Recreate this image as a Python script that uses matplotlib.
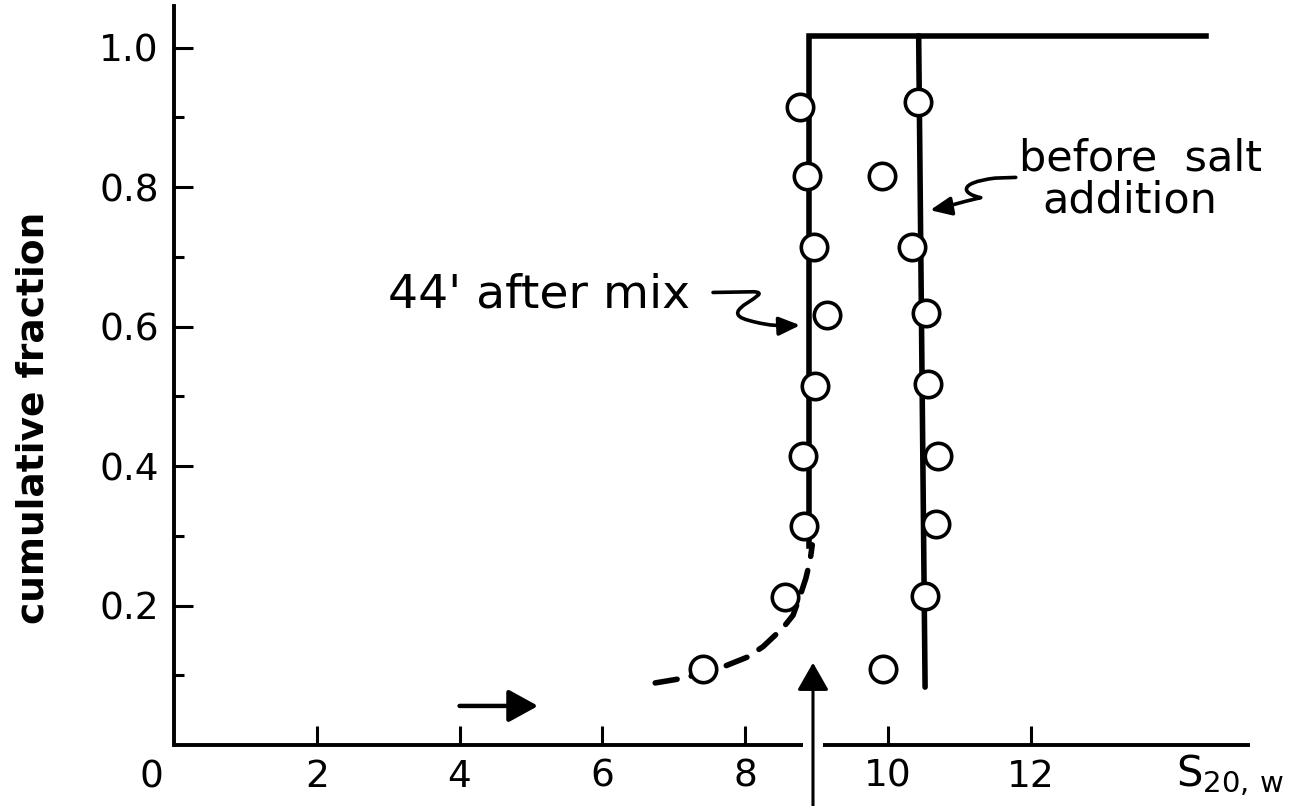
import numpy as np
import matplotlib
matplotlib.use("Agg")
import matplotlib.pyplot as plt
from matplotlib.path import Path
from matplotlib.patches import FancyArrowPatch

plt.rcParams['font.family'] = ['DejaVu Sans']

# sedimentation coefficient (S20,w) vs cumulative fraction, read per boundary level
after_x = [8.77, 8.87, 8.96, 9.14, 8.98, 8.81, 8.82, 8.56, 7.41]
after_y = [0.915, 0.816, 0.714, 0.616, 0.515, 0.415, 0.314, 0.212, 0.109]
before_x = [10.42, 9.92, 10.34, 10.53, 10.56, 10.70, 10.67, 10.52, 9.93]
before_y = [0.922, 0.816, 0.714, 0.619, 0.518, 0.414, 0.317, 0.214, 0.109]

# drawn distribution lines
after_line_x = [8.90, 8.90, 14.45]
after_line_y = [0.285, 1.017, 1.017]
before_line_x = [10.52, 10.43]
before_line_y = [0.083, 1.017]
tail_x = [6.74, 7.09, 7.41, 7.69, 8.03, 8.25, 8.53, 8.67, 8.77, 8.85, 8.91, 8.94]
tail_y = [0.089, 0.095, 0.103, 0.112, 0.126, 0.141, 0.168, 0.186, 0.214, 0.239, 0.265, 0.287]

xticks = [2, 4, 6, 8, 10, 12]
yticks = [0.2, 0.4, 0.6, 0.8, 1.0]
yminor = [0.1, 0.3, 0.5, 0.7, 0.9]
xmax, ymax = 15.07, 1.06
gap = (8.81, 9.09)   # break in the x axis where the marker arrow passes

fig = plt.figure(figsize=(12.98, 8.06), dpi=100)
ax = fig.add_axes([0.134, 0.0757, 0.829, 0.917])
ax.set_xlim(0, xmax)
ax.set_ylim(0, ymax)

for s in ['top', 'right', 'bottom']:
    ax.spines[s].set_visible(False)
ax.spines['left'].set_linewidth(2.8)

# x axis drawn in two pieces
ax.plot([0, gap[0]], [0, 0], color='black', lw=2.8, clip_on=False, solid_capstyle='butt')
ax.plot([gap[1], xmax], [0, 0], color='black', lw=2.8, clip_on=False, solid_capstyle='butt')

ax.set_xticks(xticks)
ax.set_xticklabels([str(t) for t in xticks])
ax.set_yticks(yticks)
ax.set_yticklabels(['%.1f' % t for t in yticks])
ax.set_yticks(yminor, minor=True)
ax.tick_params(axis='x', direction='in', length=14, width=2.2, pad=10, labelsize=27)
ax.tick_params(axis='y', which='major', direction='in', length=14, width=2.2, pad=11, labelsize=27)
ax.tick_params(axis='y', which='minor', direction='in', length=7, width=2.2)
ax.text(-0.31, -0.02, '0', transform=ax.get_xaxis_transform(), ha='center', va='top', fontsize=27)
ax.text(14.03, -0.01, r'S$_{\mathrm{20,\,w}}$', transform=ax.get_xaxis_transform(),
        ha='left', va='top', fontsize=30)
fig.text(0.026, 0.481, 'cumulative fraction', rotation=90, ha='center', va='center',
         fontsize=27, fontweight='bold')

# lines
ax.plot(after_line_x, after_line_y, color='black', lw=4, solid_joinstyle='miter', zorder=2)
ax.plot(before_line_x, before_line_y, color='black', lw=4, solid_capstyle='round', zorder=2)
ax.plot(tail_x, tail_y, color='black', lw=4, dashes=(4, 2.6), dash_capstyle='round', zorder=2)

# data points
ax.plot(after_x, after_y, 'o', ms=19, mfc='white', mec='black', mew=2.6, zorder=3, clip_on=False)
ax.plot(before_x, before_y, 'o', ms=19, mfc='white', mec='black', mew=2.6, zorder=3, clip_on=False)

# labels with wavy pointers
ax.text(3.0, 0.628, "44' after mix", fontsize=34, ha='left', va='baseline')
p1 = Path([(7.55, 0.649), (8.12, 0.650),
           (8.45, 0.648), (7.55, 0.622), (8.05, 0.609),
           (8.35, 0.600), (8.55, 0.601), (8.77, 0.602)],
          [Path.MOVETO, Path.LINETO,
           Path.CURVE4, Path.CURVE4, Path.CURVE4,
           Path.CURVE4, Path.CURVE4, Path.CURVE4])
ax.add_patch(FancyArrowPatch(path=p1, arrowstyle='-|>,head_length=0.8,head_width=0.35',
                             mutation_scale=16, lw=2.6, color='black'))

ax.text(13.54, 0.824, 'before  salt', fontsize=31, ha='center', va='baseline')
ax.text(13.39, 0.763, 'addition', fontsize=31, ha='center', va='baseline')
p2 = Path([(11.79, 0.814), (11.50, 0.813),
           (10.95, 0.806), (11.05, 0.790), (11.30, 0.785),
           (11.00, 0.778), (10.80, 0.771), (10.59, 0.767)],
          [Path.MOVETO, Path.LINETO,
           Path.CURVE4, Path.CURVE4, Path.CURVE4,
           Path.CURVE4, Path.CURVE4, Path.CURVE4])
ax.add_patch(FancyArrowPatch(path=p2, arrowstyle='-|>,head_length=0.8,head_width=0.35',
                             mutation_scale=16, lw=2.6, color='black'))

# arrows marking positions on the axis
ax.annotate('', xy=(5.1, 0.056), xytext=(4.0, 0.056),
            arrowprops=dict(arrowstyle='-|>,head_length=1.0,head_width=0.55',
                            mutation_scale=18, lw=3.2, color='black', shrinkA=0, shrinkB=0))
ax.annotate('', xy=(8.95, 0.118), xytext=(8.95, -0.09), annotation_clip=False,
            arrowprops=dict(arrowstyle='-|>,head_length=1.0,head_width=0.57',
                            mutation_scale=17, lw=2.2, color='black', shrinkA=0, shrinkB=0))

fig.savefig('out.png', dpi=100)
